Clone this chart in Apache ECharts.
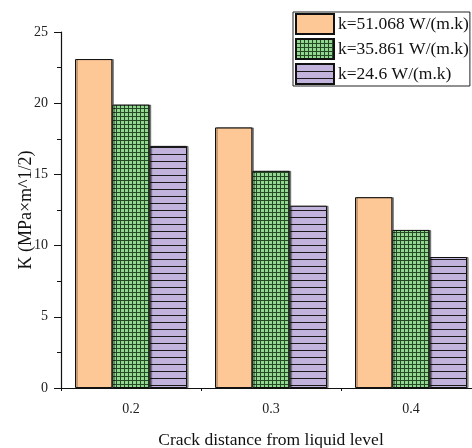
<!DOCTYPE html>
<html><head><meta charset="utf-8">
<script src="https://cdn.jsdelivr.net/npm/echarts@6/dist/echarts.min.js"></script>
<style>html,body{margin:0;padding:0;background:#fff;overflow:hidden;width:472px;height:448px}#c{width:481px;height:448px}</style>
</head><body><div id="c"></div>
<script>
const categories = ['0.2', '0.3', '0.4'];
const seriesNames = ['k=51.068 W/(m.k)', 'k=35.861 W/(m.k)', 'k=24.6 W/(m.k)'];
const k51 = [23.1, 18.3, 13.4];
const k35 = [19.9, 15.25, 11.1];
const k24 = [17.0, 12.8, 9.2];
const yTicks = [0, 5, 10, 15, 20, 25];

function gridPattern() {
  const c = document.createElement('canvas'); c.width = 4; c.height = 4;
  const g = c.getContext('2d');
  g.fillStyle = '#92d692'; g.fillRect(0, 0, 4, 4);
  g.fillStyle = '#244a24'; g.fillRect(0, 0, 1, 4); g.fillRect(0, 0, 4, 1);
  return c;
}
function linePattern() {
  const c = document.createElement('canvas'); c.width = 7; c.height = 7;
  const g = c.getContext('2d');
  g.fillStyle = '#c1b3dc'; g.fillRect(0, 0, 7, 7);
  g.fillStyle = '#1a1a1a'; g.fillRect(0, 0, 7, 1);
  return c;
}
const font = 'Liberation Serif';
const chart = echarts.init(document.getElementById('c'));
function mk(name, data, color) {
  return {
    name, data, type: 'bar', barGap: '0%', barCategoryGap: '20%',
    itemStyle: { color, borderColor: '#111', borderWidth: 1,
      shadowColor: 'rgba(0,0,0,0.45)', shadowOffsetX: 1.5, shadowOffsetY: 0, shadowBlur: 0 }
  };
}
chart.setOption({
  animation: false,
  grid: { left: 61, top: 32, bottom: 60, right: 0, outerBoundsMode: 'none', containLabel: false },
  legend: {
    left: 293, top: 12, orient: 'vertical', icon: 'rect',
    itemWidth: 38, itemHeight: 20, itemGap: 3,
    padding: [1, 1, 1, 2], borderColor: '#222', borderWidth: 1,
    textStyle: { fontFamily: font, fontSize: 17.5, lineHeight: 20, color: '#111', padding: [0, 0, 0, -1] },
    data: seriesNames
  },
  xAxis: [{
    type: 'category', data: categories,
    name: 'Crack distance from liquid level', nameLocation: 'middle', nameGap: 43,
    nameMoveOverlap: false,
    nameTextStyle: { fontFamily: font, fontSize: 17.5, color: '#111' },
    axisLine: { lineStyle: { color: '#111', width: 1.2 } },
    axisTick: { alignWithLabel: true, length: 5, inside: false, lineStyle: { color: '#111' } },
    axisLabel: { fontFamily: font, fontSize: 14, color: '#222', margin: 14 }
  }, {
    type: 'category', data: categories, position: 'bottom',
    axisLine: { show: false },
    axisTick: { show: true, length: 3, lineStyle: { color: '#111' } },
    axisLabel: { show: false }
  }],
  yAxis: {
    type: 'value', min: yTicks[0], max: yTicks[yTicks.length - 1], interval: 5,
    name: 'K (MPa×m^1/2)', nameLocation: 'middle', nameGap: 26,
    nameMoveOverlap: false,
    nameTextStyle: { fontFamily: font, fontSize: 18, color: '#111' },
    axisLine: { show: true, lineStyle: { color: '#111', width: 1.2 } },
    axisTick: { show: true, length: 7, lineStyle: { color: '#111' } },
    minorTick: { show: true, splitNumber: 2, length: 4, lineStyle: { color: '#111' } },
    splitLine: { show: false },
    axisLabel: { fontFamily: font, fontSize: 14, color: '#222', margin: 13 }
  },
  series: [
    mk(seriesNames[0], k51, '#fdc895'),
    mk(seriesNames[1], k35, { image: gridPattern(), repeat: 'repeat' }),
    mk(seriesNames[2], k24, { image: linePattern(), repeat: 'repeat' })
  ]
});
</script></body></html>
